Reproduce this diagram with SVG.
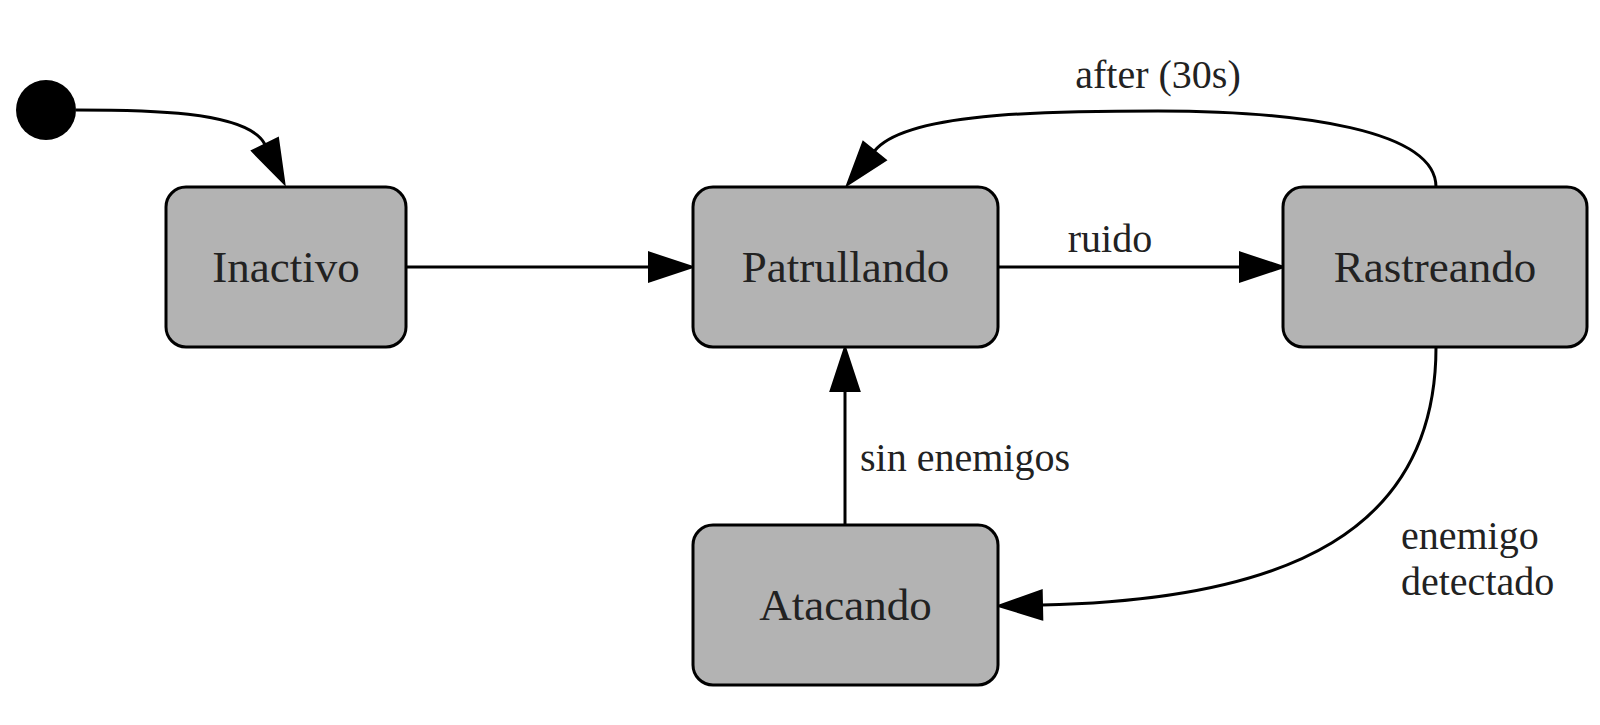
<svg xmlns="http://www.w3.org/2000/svg" width="1600" height="725" viewBox="0 0 1600 725">
<style>
.node rect{fill:#b3b3b3;stroke:#000;stroke-width:3}
.node text{font-family:"Liberation Serif",serif;font-size:45px;fill:#222;text-anchor:middle}
.edge{fill:none;stroke:#000;stroke-width:3;marker-end:url(#ah)}
.lbl{font-family:"Liberation Serif",serif;font-size:40px;fill:#222}
</style>
<defs>
<marker id="ah" markerUnits="userSpaceOnUse" markerWidth="46" markerHeight="32" refX="0" refY="14.5" orient="auto" viewBox="0 0 46 29" overflow="visible">
<path d="M0,0 L44,14.5 L0,29 z" fill="#000" stroke="#000" stroke-width="2"/>
</marker>
</defs>
<rect width="1600" height="725" fill="#fff"/>
<g id="start"><circle cx="46" cy="110" r="30" fill="#000"/></g>
<g id="connectors">
<path class="edge" d="M76,110 C140,110 248,110 265,144.5"/>
<path class="edge" d="M406,267 L649,267"/>
<path class="edge" d="M998,267 L1240,267"/>
<path class="edge" d="M1436,187 C1436,130 1300,111 1158,111 C1040,111 905,113 874.5,151"/>
<path class="edge" d="M1436,347 C1436,530 1290,600 1042,605"/>
<path class="edge" d="M845,525 L845,391"/>
<text class="lbl" x="1110" y="252" text-anchor="middle">ruido</text>
<text class="lbl" x="1158" y="88" text-anchor="middle">after (30s)</text>
<text class="lbl" x="860" y="471">sin enemigos</text>
<text class="lbl" x="1401" y="549">enemigo</text>
<text class="lbl" x="1401" y="595">detectado</text>
</g>
<g id="inactivo" class="node"><rect x="166" y="187" width="240" height="160" rx="20"/><text x="286" y="282">Inactivo</text></g>
<g id="patrullando" class="node"><rect x="693" y="187" width="305" height="160" rx="20"/><text x="845.5" y="282">Patrullando</text></g>
<g id="rastreando" class="node"><rect x="1283" y="187" width="304" height="160" rx="20"/><text x="1435" y="282">Rastreando</text></g>
<g id="atacando" class="node"><rect x="693" y="525" width="305" height="160" rx="20"/><text x="845.5" y="620">Atacando</text></g>
</svg>
